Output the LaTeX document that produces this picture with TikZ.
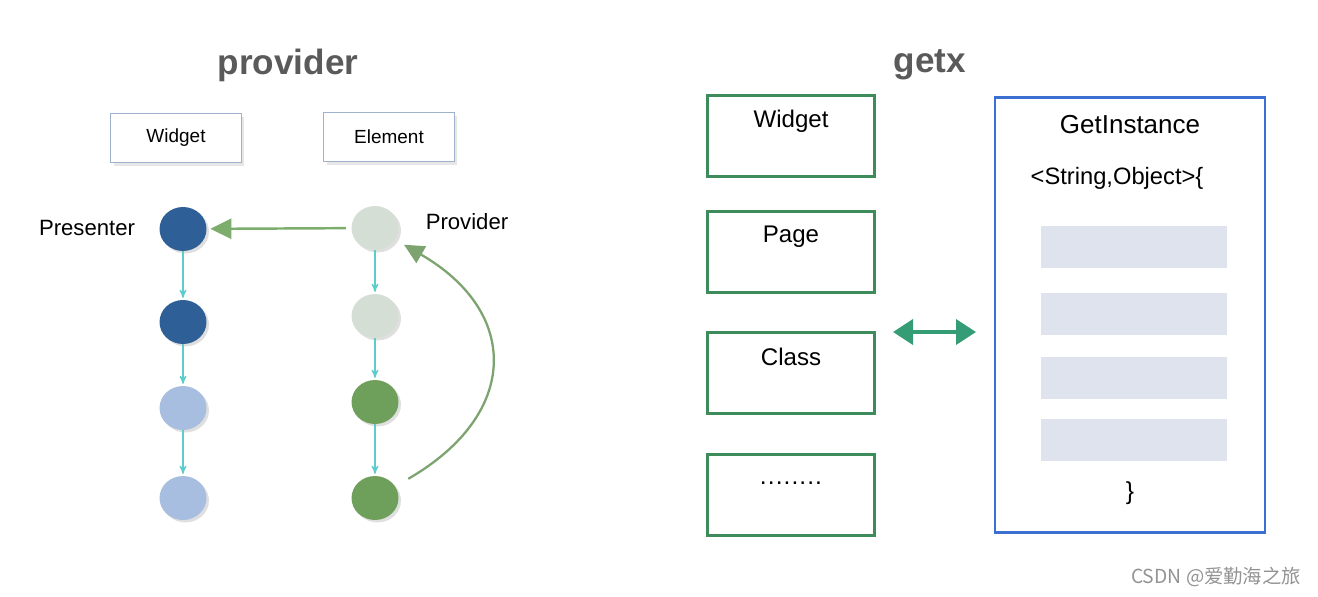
\documentclass[tikz,border=0pt]{standalone}
\usepackage{fontspec}
\setmainfont{Liberation Sans}
\newfontfamily\cjkfont{Noto Sans CJK SC}
\usepackage{tikz}
\usetikzlibrary{arrows, arrows.meta, shapes.geometric, shadows}
\definecolor{darkblue}{HTML}{2E5F96}
\definecolor{paleblue}{HTML}{A7BEE0}
\definecolor{palegreen}{HTML}{D5DED4}
\definecolor{leafgreen}{HTML}{6FA05B}
\definecolor{linkcyan}{HTML}{5CCDCB}
\definecolor{mossgreen}{HTML}{7DAD6C}
\definecolor{boxgreen}{HTML}{3E8C5C}
\definecolor{boxblue}{HTML}{3C6FD2}
\definecolor{slotgray}{HTML}{DEE3EE}
\definecolor{titlegray}{HTML}{5A5A5A}

\begin{document}
\begin{tikzpicture}[x=0.02cm, y=-0.02cm,
				>=stealth',
				dot/.style={ellipse, minimum width=0.94cm, minimum height=0.88cm, inner sep=0pt,
					drop shadow={opacity=0.25, shadow xshift=0.05cm, shadow yshift=-0.05cm}},
				wbox/.style={draw=paleblue!80!gray, line width=0.9pt, fill=white, minimum width=2.62cm, minimum height=0.98cm,
					drop shadow={opacity=0.2, shadow xshift=0.06cm, shadow yshift=-0.06cm}},
				gbox/.style={draw=boxgreen, line width=1.2pt, minimum width=3.34cm, minimum height=1.62cm},
				slot/.style={fill=slotgray, minimum width=3.74cm, minimum height=0.85cm, inner sep=0pt},
				link/.style={->, linkcyan, line width=0.7pt, shorten >=1pt},
				title/.style={text=titlegray, font=\fontsize{20}{24}\selectfont\bfseries},
				tag/.style={font=\fontsize{12.6}{15}\selectfont}]
	\useasboundingbox (0,0) rectangle (1318,596);
	% provider side
	\node at (288,65) (ptitle) [title] {provider};
	\node at (176,138) (widget) [wbox, font=\fontsize{10.8}{13}\selectfont] {Widget};
	\node at (389,137) (element) [wbox, font=\fontsize{10.8}{13}\selectfont] {Element};
	\node at (183,229) (b1) [dot, fill=darkblue] {};
	\node at (183,322) (b2) [dot, fill=darkblue] {};
	\node at (183,408) (b3) [dot, fill=paleblue] {};
	\node at (183,498) (b4) [dot, fill=paleblue] {};
	\node at (375,228) (g1) [dot, fill=palegreen] {};
	\node at (375,316) (g2) [dot, fill=palegreen] {};
	\node at (375,402) (g3) [dot, fill=leafgreen] {};
	\node at (375,498) (g4) [dot, fill=leafgreen] {};
	\node at (87,228) (presenter) [tag] {Presenter};
	\node at (467,222) (provider) [tag] {Provider};
	\draw[link] (b1) -- (b2);
	\draw[link] (b2) -- (b3);
	\draw[link] (b3) -- (b4);
	\draw[link] (g1) -- (g2);
	\draw[link] (g2) -- (g3);
	\draw[link] (g3) -- (g4);
	\draw[-{Triangle[length=0.42cm, width=0.4cm]}, mossgreen, line width=1.4pt, shorten >=2pt, shorten <=3pt] (g1) -- (b1);
	\draw[-{Triangle[length=0.4cm, width=0.38cm]}, mossgreen!80!gray, line width=1.3pt, shorten <=0.3cm, shorten >=0.2cm]
		(g4) to [out=30, in=-30, looseness=1.5] (g1);
	% getx side
	\node at (930,65) (gtitle) [title] {getx};
	\node at (791,136) (wpage) [gbox] {};
	\node at (791,252) (page) [gbox] {};
	\node at (791,373) (cls) [gbox] {};
	\node at (791,495) (more) [gbox] {};
	\node at (791,121) (wtext) [font=\fontsize{13.7}{16}\selectfont] {Widget};
	\node at (791,237) (ptext) [font=\fontsize{13.7}{16}\selectfont] {Page};
	\node at (791,357) (ctext) [font=\fontsize{13.7}{16}\selectfont] {Class};
	\node at (791,483) (mtext) [font=\fontsize{14}{16}\selectfont] {.\kern0.6pt.\kern0.6pt.\kern0.6pt.\kern0.6pt.\kern0.6pt.\kern0.6pt.\kern0.6pt.};
	\node at (1130,315) (inst) [draw=boxblue, line width=1.2pt, minimum width=5.4cm, minimum height=8.7cm] {};
	\node at (1130,125) (itext) [font=\fontsize{14.8}{18}\selectfont] {GetInstance};
	\node at (1117,178) (mapt) [font=\fontsize{13.5}{16}\selectfont] {<String,Object>\{};
	\node at (1134,247) (s1) [slot] {};
	\node at (1134,314) (s2) [slot] {};
	\node at (1134,378) (s3) [slot] {};
	\node at (1134,440) (s4) [slot] {};
	\node at (1130,493) (close) [font=\fontsize{14}{17}\selectfont] {\}};
	\coordinate (la) at (893,332);
	\coordinate (ra) at (976,332);
	\draw[{Triangle[length=0.4cm, width=0.5cm]}-{Triangle[length=0.4cm, width=0.5cm]}, boxgreen!85!cyan, line width=2.2pt] (la) -- (ra);
	\node at (1216,577) (mark) [text=gray!85, font=\fontsize{11}{13}\selectfont\cjkfont] {CSDN @爱勤海之旅};
\end{tikzpicture}
\end{document}
